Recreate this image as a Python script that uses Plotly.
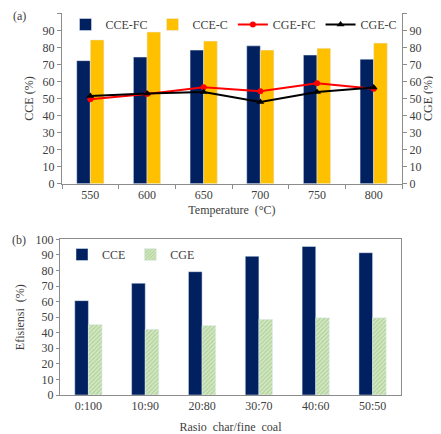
import plotly.graph_objects as go

# Data
temps = ["550", "600", "650", "700", "750", "800"]
cce_fc = [72.2, 74.3, 78.4, 80.9, 75.5, 73.1]
cce_c = [84.4, 89.0, 83.7, 78.4, 79.5, 82.5]
cge_fc = [49.5, 52.7, 56.6, 54.2, 58.9, 55.7]
cge_c = [51.5, 53.0, 53.8, 48.0, 53.8, 56.4]

ratios = ["0:100", "10:90", "20:80", "30:70", "40:60", "50:50"]
cce_r = [60.6, 71.8, 79.2, 89.1, 95.4, 91.4]
cge_r = [45.2, 42.2, 44.6, 48.6, 49.6, 49.6]

yticks = list(range(0, 101, 10))

NAVY = "#002060"
GOLD = "#FFC000"
FONT = "Liberation Serif"
TXT = "#404040"
AX = "#8c8c8c"

# page body has an 8px margin: figure is drawn at (8, 8) in the 441x434 window
OFF = 8
W, H = 441 - OFF, 434 - OFF


def px(x):
    return (x - OFF) / W


def py(y):
    return 1 - (y - OFF) / H


fig = go.Figure()

# Top chart
fig.add_trace(go.Bar(x=temps, y=cce_fc, name="CCE-FC", marker_color=NAVY,
                     xaxis="x", yaxis="y", legend="legend"))
fig.add_trace(go.Bar(x=temps, y=cce_c, name="CCE-C", marker_color=GOLD,
                     xaxis="x", yaxis="y", legend="legend"))
fig.add_trace(go.Scatter(x=temps, y=cge_fc, name="CGE-FC", mode="lines+markers",
                         line=dict(color="#FF0000", width=2),
                         marker=dict(symbol="circle", size=6, color="#FF0000"),
                         xaxis="x", yaxis="y2", legend="legend"))
fig.add_trace(go.Scatter(x=temps, y=cge_c, name="CGE-C", mode="lines+markers",
                         line=dict(color="#000000", width=2),
                         marker=dict(symbol="triangle-up", size=7, color="#000000"),
                         xaxis="x", yaxis="y2", legend="legend"))

# Bottom chart
fig.add_trace(go.Bar(x=ratios, y=cce_r, name="CCE", marker_color=NAVY,
                     xaxis="x2", yaxis="y3", legend="legend2"))
fig.add_trace(go.Bar(x=ratios, y=cge_r, name="CGE",
                     marker=dict(color="#C5E0B4",
                                 pattern=dict(shape="/", fgcolor="#8DBF6E", bgcolor="#D5E8C6",
                                              size=3, solidity=0.45)),
                     xaxis="x2", yaxis="y3", legend="legend2"))

tickfont = dict(family=FONT, size=12, color=TXT)
titlefont = dict(family=FONT, size=12, color=TXT)

fig.update_layout(
    width=W, height=H,
    margin=dict(l=0, r=0, t=0, b=0, autoexpand=False),
    paper_bgcolor="white", plot_bgcolor="white",
    barmode="group", bargap=0.52, bargroupgap=0,
    font=dict(family=FONT, color=TXT),
    xaxis=dict(domain=[px(62), px(402)], anchor="y", showline=True, linecolor=AX,
               ticks="outside", tickson="boundaries", ticklen=4, tickcolor=AX,
               tickfont=tickfont, showgrid=False, automargin=False,
               title=dict(text="Temperature  (°C)", font=titlefont, standoff=4)),
    yaxis=dict(domain=[py(183.7), py(13.3)], anchor="x", range=[0, 100], tickvals=yticks,
               showline=True, linecolor=AX, ticks="outside", ticklen=4, tickcolor=AX,
               tickfont=tickfont, showgrid=False, zeroline=False, automargin=False,
               title=dict(text="CCE (%)", font=titlefont, standoff=6)),
    yaxis2=dict(overlaying="y", side="right", anchor="x", range=[0, 100], tickvals=yticks,
                showline=True, linecolor=AX, ticks="outside", ticklen=4, tickcolor=AX,
                tickfont=tickfont, showgrid=False, zeroline=False, automargin=False,
                title=dict(text="CGE (%)", font=titlefont, standoff=2)),
    xaxis2=dict(domain=[px(60), px(401)], anchor="y3", showline=True, linecolor=AX,
                mirror=True, ticks="", tickfont=tickfont, showgrid=False, automargin=False,
                title=dict(text="Rasio  char/fine  coal", font=titlefont, standoff=11)),
    yaxis3=dict(domain=[py(395), py(239.3)], anchor="x2", range=[0, 100], tickvals=yticks,
                showline=True, linecolor=AX, mirror=True, ticks="outside", ticklen=3,
                tickcolor=AX, tickfont=tickfont, showgrid=False, zeroline=False, automargin=False,
                title=dict(text="Efisiensi  (%)", font=titlefont, standoff=8)),
    legend=dict(orientation="h", x=px(234), y=py(10), xanchor="center", yanchor="top",
                bgcolor="rgba(0,0,0,0)", font=dict(family=FONT, size=12, color=TXT),
                itemwidth=30, tracegroupgap=0),
    legend2=dict(orientation="h", x=px(62), y=py(240), xanchor="left", yanchor="top",
                 bgcolor="rgba(0,0,0,0)", font=dict(family=FONT, size=12, color=TXT),
                 itemwidth=30, tracegroupgap=0),
    annotations=[
        dict(text="(a)", x=px(19), y=py(16), xref="paper", yref="paper", showarrow=False,
             xanchor="center", yanchor="middle",
             font=dict(family=FONT, size=12, color=TXT)),
        dict(text="(b)", x=px(19), y=py(240), xref="paper", yref="paper", showarrow=False,
             xanchor="center", yanchor="middle",
             font=dict(family=FONT, size=12, color=TXT)),
    ],
)

fig.write_html("out.html")
